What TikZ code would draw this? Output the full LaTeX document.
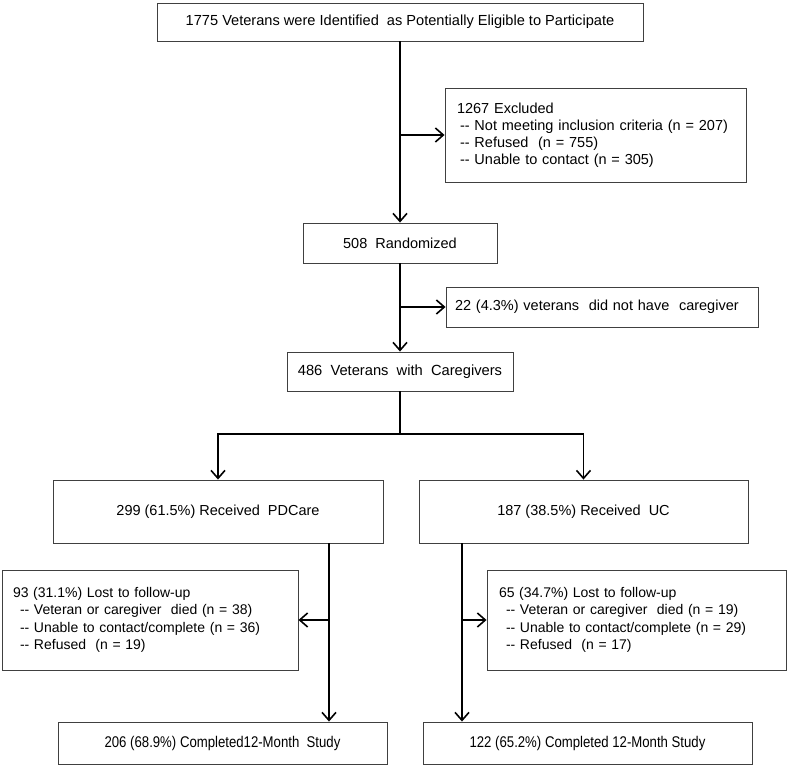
\documentclass[tikz,border=0pt]{standalone}
\usepackage{fontspec}
\setmainfont{Liberation Sans}
\newfontfamily\narrowsans[FakeStretch=0.85]{Liberation Sans}
\usetikzlibrary{arrows.meta}
\begin{document}
\begin{tikzpicture}[x=1pt,y=-1pt,
  box/.style={draw=black!75, line width=0.9pt, inner sep=0pt, fill=white,
              font=\fontsize{14.5}{17}\selectfont},
  narrowbox/.style={box, font=\narrowsans\fontsize{15.5}{17}\selectfont},
  conn/.style={line width=1.9pt},
  arr/.style={conn, -{Straight Barb[length=8pt,width=14pt,line width=1.6pt]}}]
\useasboundingbox (0,0) rectangle (788,767);

\node[box, minimum width=486pt, minimum height=38pt, font=\fontsize{14.6}{17}\selectfont] (top) at (400,22)
  {1775 Veterans were Identified \ as Potentially Eligible to Participate};

\node[box, minimum width=301pt, minimum height=94pt, text width=277pt, align=left] (excl) at (595.5,135)
  {1267 Excluded\\
   \hspace*{3pt}-{}- Not meeting inclusion criteria (n = 207)\\
   \hspace*{3pt}-{}- Refused \ (n = 755)\\
   \hspace*{3pt}-{}- Unable to contact (n = 305)};

\node[box, minimum width=194pt, minimum height=40pt] (rand) at (400,243) {508 \ Randomized};

\node[box, minimum width=312pt, minimum height=40pt, text width=294pt, align=left] (nocg) at (602,307)
  {22 (4.3\%) veterans \ did not have \ caregiver};

\node[box, minimum width=226pt, minimum height=39pt, font=\fontsize{14.7}{17}\selectfont] (cg) at (400,371.5) {486 \ Veterans \ with \ Caregivers};

\node[box, minimum width=330pt, minimum height=63pt] (pd) at (218,511.5) {299 (61.5\%) Received \ PDCare};
\node[box, minimum width=329pt, minimum height=63pt] (uc) at (583.5,511.5) {187 (38.5\%) Received \ UC};

\node[box, minimum width=296pt, minimum height=100pt, text width=274pt, align=left, font=\fontsize{14}{17.5}\selectfont] (lostL) at (150,620)
  {93 (31.1\%) Lost to follow-up\\
   \hspace*{7pt}-{}- Veteran or caregiver \ died (n = 38)\\
   \hspace*{7pt}-{}- Unable to contact/complete (n = 36)\\
   \hspace*{7pt}-{}- Refused \ (n = 19)};

\node[box, minimum width=299pt, minimum height=100pt, text width=275pt, align=left, font=\fontsize{14}{17.5}\selectfont] (lostR) at (636.5,620)
  {65 (34.7\%) Lost to follow-up\\
   \hspace*{7pt}-{}- Veteran or caregiver \ died (n = 19)\\
   \hspace*{7pt}-{}- Unable to contact/complete (n = 29)\\
   \hspace*{7pt}-{}- Refused \ (n = 17)};

\node[narrowbox, minimum width=329pt, minimum height=42pt] (compL) at (222.5,743) {206 (68.9\%) Completed12-Month \ Study};
\node[narrowbox, minimum width=329pt, minimum height=42pt] (compR) at (587.5,743) {122 (65.2\%) Completed 12-Month Study};

% junctions
\coordinate (j1) at (400,135);
\coordinate (j2) at (400,307);
\coordinate (j3) at (400,434);
\coordinate (j4) at (329,620);
\coordinate (j5) at (462,620);

\draw[arr] (top.south) -- (rand.north);
\draw[arr] (j1) -- (excl.west);
\draw[arr] (rand.south) -- (cg.north);
\draw[arr] (j2) -- (nocg.west);
\draw[conn] (cg.south) -- (j3);
\draw[arr] (j3) -| (pd.north);
\draw[arr] (j3) -| (uc.north);
\draw[arr] (j4 |- pd.south) -- (j4 |- compL.north);
\draw[arr] (j4) -- (lostL.east);
\draw[arr] (j5 |- uc.south) -- (j5 |- compR.north);
\draw[arr] (j5) -- (lostR.west);
\end{tikzpicture}
\end{document}
